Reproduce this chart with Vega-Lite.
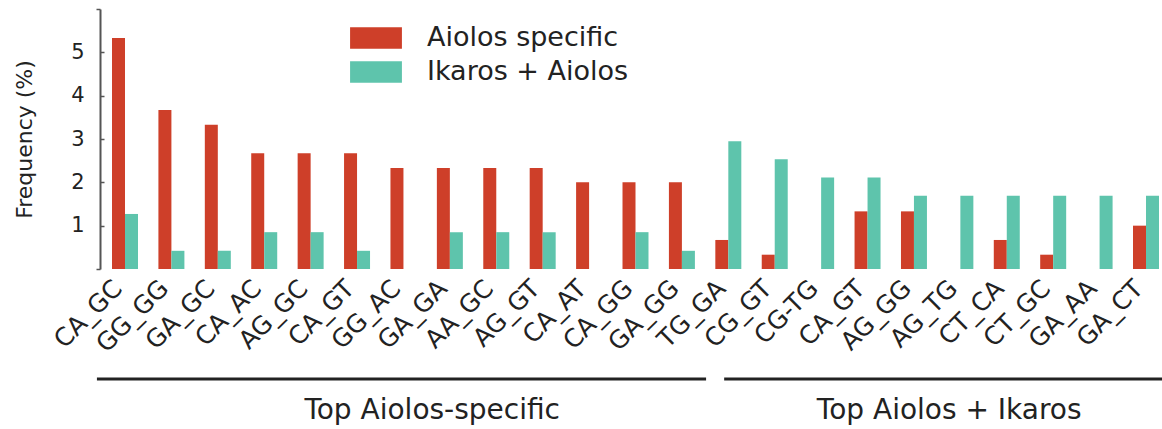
{
  "$schema": "https://vega.github.io/schema/vega-lite/v6.json",
  "padding": {"left": 13, "top": 8, "right": 0, "bottom": 0},
  "config": {
    "font": "DejaVu Sans",
    "view": {"stroke": null},
    "axis": {"labelColor": "#222", "titleColor": "#222", "titleFontWeight": "normal"}
  },
  "datasets": {
    "freq": [
      {"key": "01|CA_GC", "series": "Aiolos specific", "value": 5.33},
      {"key": "01|CA_GC", "series": "Ikaros + Aiolos", "value": 1.27},
      {"key": "02|GG_GG", "series": "Aiolos specific", "value": 3.67},
      {"key": "02|GG_GG", "series": "Ikaros + Aiolos", "value": 0.42},
      {"key": "03|GA_GC", "series": "Aiolos specific", "value": 3.33},
      {"key": "03|GA_GC", "series": "Ikaros + Aiolos", "value": 0.42},
      {"key": "04|CA_AC", "series": "Aiolos specific", "value": 2.67},
      {"key": "04|CA_AC", "series": "Ikaros + Aiolos", "value": 0.85},
      {"key": "05|AG_GC", "series": "Aiolos specific", "value": 2.67},
      {"key": "05|AG_GC", "series": "Ikaros + Aiolos", "value": 0.85},
      {"key": "06|CA_GT", "series": "Aiolos specific", "value": 2.67},
      {"key": "06|CA_GT", "series": "Ikaros + Aiolos", "value": 0.42},
      {"key": "07|GG_AC", "series": "Aiolos specific", "value": 2.33},
      {"key": "07|GG_AC", "series": "Ikaros + Aiolos", "value": 0},
      {"key": "08|GA_GA", "series": "Aiolos specific", "value": 2.33},
      {"key": "08|GA_GA", "series": "Ikaros + Aiolos", "value": 0.85},
      {"key": "09|AA_GC", "series": "Aiolos specific", "value": 2.33},
      {"key": "09|AA_GC", "series": "Ikaros + Aiolos", "value": 0.85},
      {"key": "10|AG_GT", "series": "Aiolos specific", "value": 2.33},
      {"key": "10|AG_GT", "series": "Ikaros + Aiolos", "value": 0.85},
      {"key": "11|CA_AT", "series": "Aiolos specific", "value": 2.0},
      {"key": "11|CA_AT", "series": "Ikaros + Aiolos", "value": 0},
      {"key": "12|CA_GG", "series": "Aiolos specific", "value": 2.0},
      {"key": "12|CA_GG", "series": "Ikaros + Aiolos", "value": 0.85},
      {"key": "13|GA_GG", "series": "Aiolos specific", "value": 2.0},
      {"key": "13|GA_GG", "series": "Ikaros + Aiolos", "value": 0.42},
      {"key": "14|TG_GA", "series": "Aiolos specific", "value": 0.67},
      {"key": "14|TG_GA", "series": "Ikaros + Aiolos", "value": 2.95},
      {"key": "15|CG_GT", "series": "Aiolos specific", "value": 0.33},
      {"key": "15|CG_GT", "series": "Ikaros + Aiolos", "value": 2.53},
      {"key": "16|CG-TG", "series": "Aiolos specific", "value": 0},
      {"key": "16|CG-TG", "series": "Ikaros + Aiolos", "value": 2.11},
      {"key": "17|CA_GT", "series": "Aiolos specific", "value": 1.33},
      {"key": "17|CA_GT", "series": "Ikaros + Aiolos", "value": 2.11},
      {"key": "18|AG_GG", "series": "Aiolos specific", "value": 1.33},
      {"key": "18|AG_GG", "series": "Ikaros + Aiolos", "value": 1.69},
      {"key": "19|AG_TG", "series": "Aiolos specific", "value": 0},
      {"key": "19|AG_TG", "series": "Ikaros + Aiolos", "value": 1.69},
      {"key": "20|CT_CA", "series": "Aiolos specific", "value": 0.67},
      {"key": "20|CT_CA", "series": "Ikaros + Aiolos", "value": 1.69},
      {"key": "21|CT_GC", "series": "Aiolos specific", "value": 0.33},
      {"key": "21|CT_GC", "series": "Ikaros + Aiolos", "value": 1.69},
      {"key": "22|GA_AA", "series": "Aiolos specific", "value": 0},
      {"key": "22|GA_AA", "series": "Ikaros + Aiolos", "value": 1.69},
      {"key": "23|GA_CT", "series": "Aiolos specific", "value": 1.0},
      {"key": "23|GA_CT", "series": "Ikaros + Aiolos", "value": 1.69}
    ],
    "groups": [
      {"group": "Top Aiolos-specific", "from": "01|CA_GC", "to": "13|GA_GG", "mid": "08|GA_GA"},
      {"group": "Top Aiolos + Ikaros", "from": "14|TG_GA", "to": "23|GA_CT", "mid": "19|AG_TG"}
    ]
  },
  "bounds": "flush",
  "spacing": 100,
  "resolve": {"scale": {"x": "shared"}},
  "vconcat": [
    {
      "width": 1071,
      "height": 260,
      "data": {"name": "freq"},
      "mark": {"type": "bar"},
      "encoding": {
        "x": {
          "field": "key", "type": "nominal",
          "scale": {"paddingInner": 0.44, "paddingOuter": 0.2586},
          "axis": {
            "title": null, "domain": false, "ticks": false,
            "labelAngle": -45, "labelAlign": "right", "labelBaseline": "middle",
            "labelPadding": 15, "labelOffset": -7, "labelFontSize": 25,
            "labelExpr": "split(datum.value, '|')[1]"
          }
        },
        "xOffset": {
          "field": "series", "type": "nominal",
          "sort": ["Aiolos specific", "Ikaros + Aiolos"],
          "scale": {"paddingInner": 0, "paddingOuter": 0}
        },
        "y": {
          "field": "value", "type": "quantitative",
          "scale": {"domain": [0, 6], "nice": false},
          "axis": {
            "title": "Frequency (%)",
            "values": [0, 1, 2, 3, 4, 5, 6],
            "labelExpr": "datum.value == 0 || datum.value == 6 ? '' : datum.label",
            "grid": false,
            "domainColor": "#555", "domainWidth": 2,
            "tickColor": "#555", "tickWidth": 1.5,
            "tickSize": {"condition": {"test": "datum.value == 0 || datum.value == 6", "value": 4}, "value": -4},
            "labelPadding": 20, "labelFontSize": 21,
            "titleFontSize": 22, "titlePadding": 34
          }
        },
        "color": {
          "field": "series", "type": "nominal",
          "scale": {"domain": ["Aiolos specific", "Ikaros + Aiolos"], "range": ["#CE3F29", "#5EC4AC"]},
          "legend": {
            "orient": "none", "legendX": 258, "legendY": 11, "title": null,
            "symbolType": "M-1.44,-0.6H1.44V0.6H-1.44Z", "symbolSize": 1296,
            "symbolStrokeWidth": 0, "symbolOpacity": 1,
            "labelFontSize": 27, "labelOffset": 33, "labelColor": "#222", "labelLimit": 500,
            "rowPadding": 3, "padding": 0
          }
        }
      }
    },
    {
      "width": 1071,
      "height": 20,
      "data": {"name": "groups"},
      "layer": [
        {
          "transform": [{"filter": "datum.group == 'Top Aiolos-specific'"}],
          "mark": {"type": "rule", "strokeWidth": 3, "color": "#222"},
          "encoding": {
            "x": {"field": "from", "type": "nominal", "bandPosition": -0.58, "axis": null},
            "x2": {"field": "to", "bandPosition": 1.43}
          }
        },
        {
          "transform": [{"filter": "datum.group == 'Top Aiolos-specific'"}],
          "mark": {"type": "text", "fontSize": 28, "dy": 40, "baseline": "alphabetic", "align": "center", "color": "#222"},
          "encoding": {
            "x": {"field": "mid", "type": "nominal", "bandPosition": -0.18, "axis": null},
            "text": {"field": "group"}
          }
        },
        {
          "transform": [{"filter": "datum.group == 'Top Aiolos + Ikaros'"}],
          "mark": {"type": "rule", "strokeWidth": 3, "color": "#222"},
          "encoding": {
            "x": {"field": "from", "type": "nominal", "bandPosition": 0.34, "axis": null},
            "x2": {"field": "to", "bandPosition": 1.2}
          }
        },
        {
          "transform": [{"filter": "datum.group == 'Top Aiolos + Ikaros'"}],
          "mark": {"type": "text", "fontSize": 28, "dy": 40, "baseline": "alphabetic", "align": "center", "color": "#222"},
          "encoding": {
            "x": {"field": "mid", "type": "nominal", "bandPosition": 0.07, "axis": null},
            "text": {"field": "group"}
          }
        }
      ]
    }
  ]
}
